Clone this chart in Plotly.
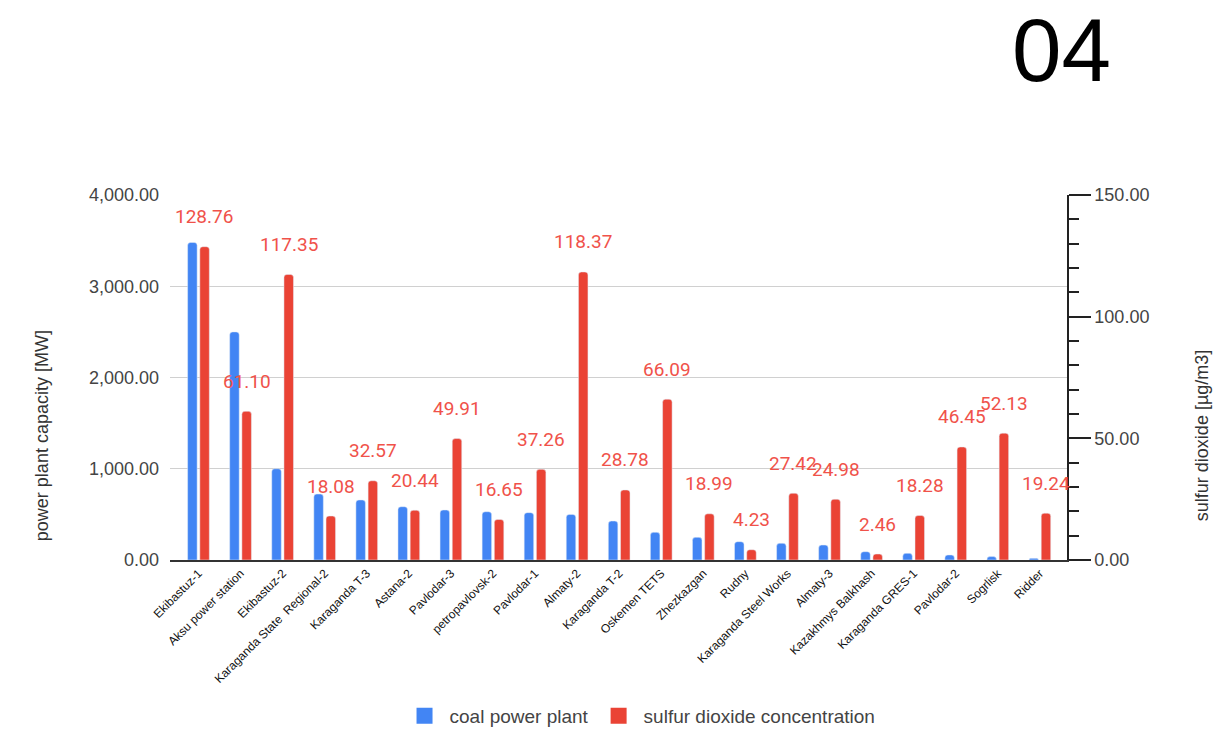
import plotly.graph_objects as go

# Coal power plants (Kazakhstan) and measured SO2 concentration
plants = [
    "Ekibastuz-1", "Aksu power station", "Ekibastuz-2", "Karaganda State  Regional-2",
    "Karaganda T-3", "Astana-2", "Pavlodar-3", "petropavlovsk-2", "Pavlodar-1",
    "Almaty-2", "Karaganda T-2", "Oskemen TETS", "Zhezkazgan", "Rudny",
    "Karaganda Steel Works", "Almaty-3", "Kazakhmys Balkhash", "Karaganda GRES-1",
    "Pavlodar-2", "Sogrlisk", "Ridder",
]
capacity_mw = [3480, 2500, 1000, 723, 658, 584, 548, 529, 519, 500, 427,
               303, 248, 201, 183, 164, 91, 73, 55, 37, 18]
so2_ugm3 = [128.76, 61.10, 117.35, 18.08, 32.57, 20.44, 49.91, 16.65, 37.26,
            118.37, 28.78, 66.09, 18.99, 4.23, 27.42, 24.98, 2.46, 18.28,
            46.45, 52.13, 19.24]

left_ticks = [0, 1000, 2000, 3000, 4000]
right_ticks = [0, 50, 100, 150]

BLUE = "#4285f4"
RED = "#ea4335"
LABEL_RED = "#f0524a"
SANS = "Liberation Sans, Arial, sans-serif"
TICK_FONT = dict(family=SANS, size=18, color="#444")

fig = go.Figure()
fig.add_trace(go.Bar(x=plants, y=capacity_mw, name="coal power plant",
                     marker_color=BLUE, yaxis="y", offsetgroup="a",
                     showlegend=False))
fig.add_trace(go.Bar(x=plants, y=so2_ugm3, name="sulfur dioxide concentration",
                     marker_color=RED, yaxis="y2", offsetgroup="b",
                     showlegend=False))

# legend swatches
fig.add_trace(go.Scatter(x=[None], y=[None], mode="markers", name="coal power plant",
                         marker=dict(symbol="square", size=19, color=BLUE)))
fig.add_trace(go.Scatter(x=[None], y=[None], mode="markers",
                         name="sulfur dioxide concentration",
                         marker=dict(symbol="square", size=19, color=RED)))

annotations = []
for name, v in zip(plants, so2_ugm3):
    annotations.append(dict(
        x=name, y=v, xref="x", yref="y2", text=f"{v:.2f}", showarrow=False,
        xshift=6, yshift=30, yanchor="middle",
        font=dict(family="Roboto, sans-serif", size=19, color=LABEL_RED)))

annotations += [
    dict(text="power plant capacity [MW]", xref="paper", yref="paper",
         x=-0.1427, y=0.342, textangle=-90, showarrow=False,
         xanchor="center", yanchor="middle",
         font=dict(family=SANS, size=18, color="#333")),
    dict(text="sulfur dioxide [µg/m3]", xref="paper", yref="paper",
         x=1.1505, y=0.342, textangle=-90, showarrow=False,
         xanchor="center", yanchor="middle",
         font=dict(family=SANS, size=18, color="#333")),
    dict(text="04", xref="paper", yref="paper", x=0.9944, y=1.397,
         showarrow=False, xanchor="center", yanchor="middle",
         font=dict(family=SANS, size=89, color="#000")),
]

fig.update_layout(
    width=1229, height=735,
    margin=dict(l=170, r=162, t=195, b=175, autoexpand=False),
    paper_bgcolor="white", plot_bgcolor="white",
    barmode="group", bargap=0.42, bargroupgap=0.22, barcornerradius=3,
    xaxis=dict(
        type="category", range=[-0.677, 20.645], tickangle=-45,
        showline=True, linecolor="#333", linewidth=1.5, showgrid=False,
        ticks="", automargin=False,
        tickfont=dict(family=SANS, size=12, color="#111"),
    ),
    yaxis=dict(
        range=[0, 4000], tickvals=left_ticks,
        ticktext=[f"{t:,.2f}" for t in left_ticks],
        showgrid=True, gridcolor="#d0d0d0", gridwidth=1,
        zeroline=False, showline=False, ticks="", ticklabelstandoff=10,
        tickfont=TICK_FONT, automargin=False,
    ),
    yaxis2=dict(
        range=[0, 150], overlaying="y", side="right",
        tickvals=right_ticks, ticktext=[f"{t:.2f}" for t in right_ticks],
        showgrid=False, zeroline=False,
        showline=True, linecolor="#222", linewidth=1.5,
        ticks="outside", ticklen=22, tickwidth=1.5, tickcolor="#222",
        minor=dict(dtick=10, ticks="outside", ticklen=10, tickwidth=1.5, tickcolor="#222"),
        tickfont=TICK_FONT, automargin=False,
    ),
    legend=dict(orientation="h", x=0.524, xanchor="center", y=-0.427, yanchor="middle",
                font=dict(family=SANS, size=19, color="#444"),
                itemwidth=40, bgcolor="rgba(0,0,0,0)"),
    annotations=annotations,
)

fig.write_html("out.html")
